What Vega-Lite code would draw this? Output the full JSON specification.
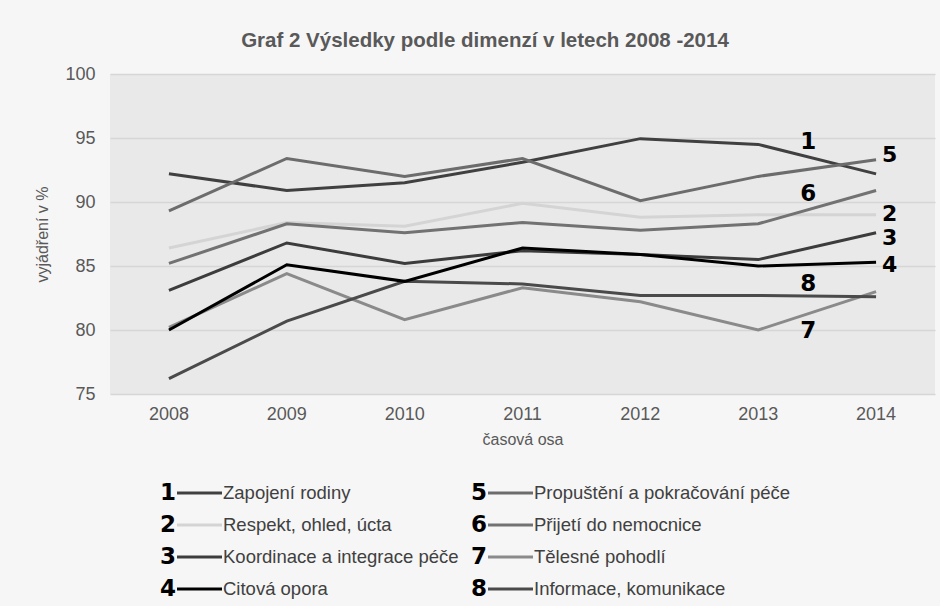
{
  "$schema": "https://vega.github.io/schema/vega-lite/v6.json",
  "background": "#f6f6f6",
  "padding": {"left": 34, "top": 30, "right": 5, "bottom": 5},
  "spacing": 0,
  "config": {
    "font": "Liberation Sans",
    "view": {"stroke": null},
    "axis": {"labelFont": "Liberation Sans", "titleFont": "Liberation Sans", "labelColor": "#595959", "titleColor": "#595959", "titleFontWeight": "normal"}
  },
  "datasets": {
    "series": [
      {"serie": "1", "name": "Zapojení rodiny", "year": "2008", "value": 92.2},
      {"serie": "1", "name": "Zapojení rodiny", "year": "2009", "value": 90.9},
      {"serie": "1", "name": "Zapojení rodiny", "year": "2010", "value": 91.5},
      {"serie": "1", "name": "Zapojení rodiny", "year": "2011", "value": 93.1},
      {"serie": "1", "name": "Zapojení rodiny", "year": "2012", "value": 94.95},
      {"serie": "1", "name": "Zapojení rodiny", "year": "2013", "value": 94.5},
      {"serie": "1", "name": "Zapojení rodiny", "year": "2014", "value": 92.2},
      {"serie": "2", "name": "Respekt, ohled, úcta", "year": "2008", "value": 86.4},
      {"serie": "2", "name": "Respekt, ohled, úcta", "year": "2009", "value": 88.4},
      {"serie": "2", "name": "Respekt, ohled, úcta", "year": "2010", "value": 88.1},
      {"serie": "2", "name": "Respekt, ohled, úcta", "year": "2011", "value": 89.9},
      {"serie": "2", "name": "Respekt, ohled, úcta", "year": "2012", "value": 88.8},
      {"serie": "2", "name": "Respekt, ohled, úcta", "year": "2013", "value": 89.0},
      {"serie": "2", "name": "Respekt, ohled, úcta", "year": "2014", "value": 89.0},
      {"serie": "3", "name": "Koordinace a integrace péče", "year": "2008", "value": 83.1},
      {"serie": "3", "name": "Koordinace a integrace péče", "year": "2009", "value": 86.8},
      {"serie": "3", "name": "Koordinace a integrace péče", "year": "2010", "value": 85.2},
      {"serie": "3", "name": "Koordinace a integrace péče", "year": "2011", "value": 86.2},
      {"serie": "3", "name": "Koordinace a integrace péče", "year": "2012", "value": 85.9},
      {"serie": "3", "name": "Koordinace a integrace péče", "year": "2013", "value": 85.5},
      {"serie": "3", "name": "Koordinace a integrace péče", "year": "2014", "value": 87.6},
      {"serie": "5", "name": "Propuštění a pokračování péče", "year": "2008", "value": 89.3},
      {"serie": "5", "name": "Propuštění a pokračování péče", "year": "2009", "value": 93.4},
      {"serie": "5", "name": "Propuštění a pokračování péče", "year": "2010", "value": 92.0},
      {"serie": "5", "name": "Propuštění a pokračování péče", "year": "2011", "value": 93.4},
      {"serie": "5", "name": "Propuštění a pokračování péče", "year": "2012", "value": 90.1},
      {"serie": "5", "name": "Propuštění a pokračování péče", "year": "2013", "value": 92.0},
      {"serie": "5", "name": "Propuštění a pokračování péče", "year": "2014", "value": 93.3},
      {"serie": "6", "name": "Přijetí do nemocnice", "year": "2008", "value": 85.2},
      {"serie": "6", "name": "Přijetí do nemocnice", "year": "2009", "value": 88.3},
      {"serie": "6", "name": "Přijetí do nemocnice", "year": "2010", "value": 87.6},
      {"serie": "6", "name": "Přijetí do nemocnice", "year": "2011", "value": 88.4},
      {"serie": "6", "name": "Přijetí do nemocnice", "year": "2012", "value": 87.8},
      {"serie": "6", "name": "Přijetí do nemocnice", "year": "2013", "value": 88.3},
      {"serie": "6", "name": "Přijetí do nemocnice", "year": "2014", "value": 90.9},
      {"serie": "7", "name": "Tělesné pohodlí", "year": "2008", "value": 80.2},
      {"serie": "7", "name": "Tělesné pohodlí", "year": "2009", "value": 84.4},
      {"serie": "7", "name": "Tělesné pohodlí", "year": "2010", "value": 80.8},
      {"serie": "7", "name": "Tělesné pohodlí", "year": "2011", "value": 83.3},
      {"serie": "7", "name": "Tělesné pohodlí", "year": "2012", "value": 82.2},
      {"serie": "7", "name": "Tělesné pohodlí", "year": "2013", "value": 80.0},
      {"serie": "7", "name": "Tělesné pohodlí", "year": "2014", "value": 83.0},
      {"serie": "8", "name": "Informace, komunikace", "year": "2008", "value": 76.2},
      {"serie": "8", "name": "Informace, komunikace", "year": "2009", "value": 80.7},
      {"serie": "8", "name": "Informace, komunikace", "year": "2010", "value": 83.8},
      {"serie": "8", "name": "Informace, komunikace", "year": "2011", "value": 83.6},
      {"serie": "8", "name": "Informace, komunikace", "year": "2012", "value": 82.7},
      {"serie": "8", "name": "Informace, komunikace", "year": "2013", "value": 82.7},
      {"serie": "8", "name": "Informace, komunikace", "year": "2014", "value": 82.6},
      {"serie": "4", "name": "Citová opora", "year": "2008", "value": 80.0},
      {"serie": "4", "name": "Citová opora", "year": "2009", "value": 85.1},
      {"serie": "4", "name": "Citová opora", "year": "2010", "value": 83.8},
      {"serie": "4", "name": "Citová opora", "year": "2011", "value": 86.4},
      {"serie": "4", "name": "Citová opora", "year": "2012", "value": 85.9},
      {"serie": "4", "name": "Citová opora", "year": "2013", "value": 85.0},
      {"serie": "4", "name": "Citová opora", "year": "2014", "value": 85.3}
    ],
    "endLabels": [
      {"label": "5", "year": "2014", "value": 93.7},
      {"label": "2", "year": "2014", "value": 89.1},
      {"label": "3", "year": "2014", "value": 87.15},
      {"label": "4", "year": "2014", "value": 85.05}
    ],
    "midLabels": [
      {"label": "1", "year": "2013", "value": 94.7},
      {"label": "6", "year": "2013", "value": 90.6},
      {"label": "8", "year": "2013", "value": 83.6},
      {"label": "7", "year": "2013", "value": 79.9}
    ],
    "legend": [
      {"serie": "1", "name": "Zapojení rodiny", "col": 0, "row": 1},
      {"serie": "2", "name": "Respekt, ohled, úcta", "col": 0, "row": 2},
      {"serie": "3", "name": "Koordinace a integrace péče", "col": 0, "row": 3},
      {"serie": "4", "name": "Citová opora", "col": 0, "row": 4},
      {"serie": "5", "name": "Propuštění a pokračování péče", "col": 1, "row": 1},
      {"serie": "6", "name": "Přijetí do nemocnice", "col": 1, "row": 2},
      {"serie": "7", "name": "Tělesné pohodlí", "col": 1, "row": 3},
      {"serie": "8", "name": "Informace, komunikace", "col": 1, "row": 4}
    ]
  },
  "vconcat": [
    {
      "width": 825,
      "height": 320,
      "view": {"fill": "#e9e9e9", "stroke": null},
      "title": {"text": "Graf 2 Výsledky podle dimenzí v letech 2008 -2014", "font": "Liberation Sans", "fontSize": 20.5, "fontWeight": "bold", "color": "#595959", "anchor": "middle", "frame": "bounds", "offset": 14},
      "encoding": {
        "x": {"field": "year", "type": "ordinal", "scale": {"type": "band", "paddingInner": 0, "paddingOuter": 0},
              "axis": {"title": "časová osa", "labelAngle": 0, "labelFontSize": 18, "titleFontSize": 16, "ticks": false, "domain": false, "labelPadding": 11, "titlePadding": 8}},
        "y": {"field": "value", "type": "quantitative", "scale": {"domain": [75, 100], "nice": false, "zero": false},
              "axis": {"title": "vyjádření v %", "values": [75, 80, 85, 90, 95, 100], "labelFontSize": 18, "titleFontSize": 16, "ticks": false, "domain": false, "labelPadding": 15, "titlePadding": 14, "gridColor": "#d6d6d6", "gridWidth": 1.5}}
      },
      "layer": [
        {
          "data": {"name": "series"},
          "mark": {"type": "line", "strokeWidth": 3},
          "encoding": {
            "color": {"field": "serie", "type": "nominal", "legend": null,
                      "scale": {"domain": ["1", "2", "3", "4", "5", "6", "7", "8"], "range": ["#404040", "#d4d4d4", "#3c3c3c", "#000000", "#6c6c6c", "#727272", "#8a8a8a", "#4a4a4a"]}},
            "detail": {"field": "serie"}
          }
        },
        {
          "data": {"name": "endLabels"},
          "mark": {"type": "text", "font": "DejaVu Sans", "fontWeight": "bold", "fontSize": 22, "align": "left", "baseline": "middle", "dx": 6, "color": "#000000"},
          "encoding": {"text": {"field": "label"}}
        },
        {
          "data": {"name": "midLabels"},
          "mark": {"type": "text", "font": "DejaVu Sans", "fontWeight": "bold", "fontSize": 23, "align": "center", "baseline": "middle", "dx": 50, "color": "#000000"},
          "encoding": {"text": {"field": "label"}}
        }
      ]
    },
    {
      "width": 825,
      "height": 150,
      "data": {"name": "legend"},
      "encoding": {
        "x": {"field": "col", "type": "quantitative", "scale": {"domain": [0, 1], "range": [50, 361], "zero": false, "nice": false}, "axis": null},
        "y": {"field": "row", "type": "quantitative", "scale": {"domain": [1, 4], "range": [46, 142], "zero": false, "nice": false}, "axis": null}
      },
      "layer": [
        {
          "mark": {"type": "rule", "strokeWidth": 3, "xOffset": 17, "x2Offset": 62},
          "encoding": {
            "x2": {"field": "col"},
            "color": {"field": "serie", "type": "nominal", "legend": null}
          }
        },
        {
          "mark": {"type": "text", "font": "DejaVu Sans", "fontWeight": "bold", "fontSize": 23, "align": "left", "baseline": "middle", "color": "#000000"},
          "encoding": {"text": {"field": "serie"}}
        },
        {
          "mark": {"type": "text", "font": "Liberation Sans", "fontSize": 18.5, "align": "left", "baseline": "middle", "dx": 63, "color": "#404040"},
          "encoding": {"text": {"field": "name"}}
        }
      ]
    }
  ]
}
